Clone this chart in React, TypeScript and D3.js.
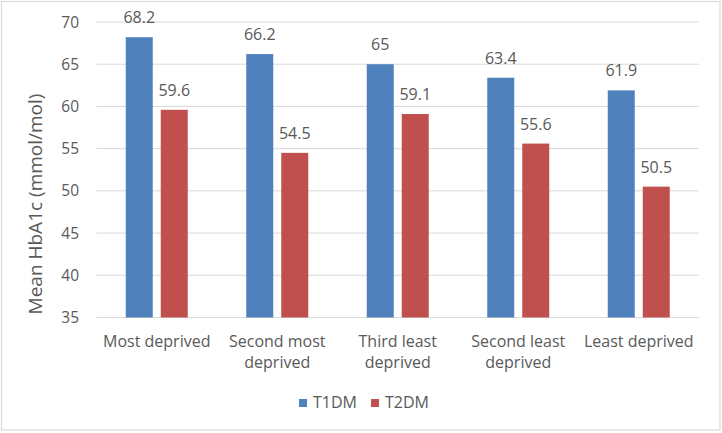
import React from "react";
import * as d3 from "d3";

const categories: string[][] = [
  ["Most deprived"],
  ["Second most", "deprived"],
  ["Third least", "deprived"],
  ["Second least", "deprived"],
  ["Least deprived"],
];
const categoryKeys = ["c1", "c2", "c3", "c4", "c5"];
const seriesNames = ["T1DM", "T2DM"];
const t1dm = [68.2, 66.2, 65, 63.4, 61.9];
const t2dm = [59.6, 54.5, 59.1, 55.6, 50.5];
const yTicks = [35, 40, 45, 50, 55, 60, 65, 70];
const colors = ["#4F81BD", "#C0504D"];

const W = 722;
const H = 433;
const FONT = "'Open Sans', 'Liberation Sans', sans-serif";
const TEXT = "#595959";

export default function App() {
  const x0 = d3.scaleBand<string>().domain(categoryKeys).range([96.5, 699]);
  const bw = x0.bandwidth();
  const x1 = d3
    .scaleBand<string>()
    .domain(seriesNames)
    .range([bw / 2 - 31, bw / 2 + 31])
    .paddingInner(8 / 35);
  const y = d3.scaleLinear().domain([35, 70]).range([317.5, 22]);
  const seriesValues = [t1dm, t2dm];

  return (
    <svg
      width={W}
      height={H}
      style={{ position: "fixed", left: 0, top: 0, background: "#fff" }}
      fontFamily={FONT}
    >
      <rect x={0} y={0} width={W} height={H} fill="#fff" />
      <rect x={1.5} y={1.5} width={718.5} height={428.5} fill="none" stroke="#D9D9D9" strokeWidth={1.2} />
      {yTicks.map((t) => (
        <g key={t}>
          <line x1={96.5} x2={699} y1={y(t)} y2={y(t)} stroke="#D9D9D9" strokeWidth={1} />
          <text x={79} y={y(t)} dy="0.36em" textAnchor="end" fontSize={15.5} fill={TEXT}>
            {t}
          </text>
        </g>
      ))}
      {categoryKeys.map((k, ci) => (
        <g key={k} transform={`translate(${x0(k)},0)`}>
          {seriesNames.map((s, si) => {
            const v = seriesValues[si][ci];
            const bx = x1(s)!;
            return (
              <g key={s}>
                <rect x={bx} y={y(v)} width={x1.bandwidth()} height={y(35) - y(v)} fill={colors[si]} />
                <text
                  x={bx + x1.bandwidth() / 2}
                  y={y(v) - 14}
                  textAnchor="middle"
                  fontSize={16}
                  fill={TEXT}
                >
                  {v}
                </text>
              </g>
            );
          })}
          {categories[ci].map((line, li) => (
            <text key={li} x={bw / 2} y={347 + li * 21} textAnchor="middle" fontSize={16} fill={TEXT}>
              {line}
            </text>
          ))}
        </g>
      ))}
      <text
        transform={`translate(42,204) rotate(-90)`}
        textAnchor="middle"
        fontSize={19}
        fill={TEXT}
      >
        Mean HbA1c (mmol/mol)
      </text>
      {seriesNames.map((s, i) => (
        <g key={s} transform={`translate(${299 + i * 72},399)`}>
          <rect x={0} y={0} width={8} height={8} fill={colors[i]} />
          <text x={14} y={8.5} fontSize={16} fill={TEXT}>
            {s}
          </text>
        </g>
      ))}
    </svg>
  );
}
